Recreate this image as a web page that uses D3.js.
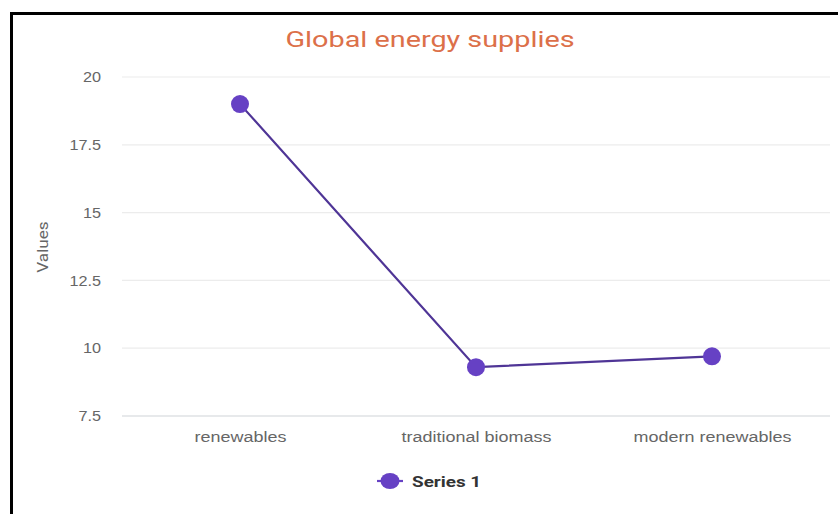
<!DOCTYPE html>
<html>
<head>
<meta charset="utf-8">
<script src="https://cdn.jsdelivr.net/npm/d3@7"></script>
<style>
  body { margin: 0; background: #fff; }
  svg { display: block; font-family: Roboto, "Noto Sans", sans-serif; }
</style>
</head>
<body>
<svg id="chart" width="838" height="514"></svg>
<script>
// chart data
var categories = ["renewables", "traditional biomass", "modern renewables"]
var seriesValues = [19, 9.3, 9.7]
var yTicks = [7.5, 10, 12.5, 15, 17.5, 20]
var seriesName = "Series 1"

var svg = d3.select("#chart")

// frame line at top and left
svg.append("rect")
  .attr("x", 11.5).attr("y", 13.5)
  .attr("width", 900).attr("height", 600)
  .attr("fill", "none")
  .attr("stroke", "#000")
  .attr("stroke-width", 3)

var margin = { left: 122, right: 8, top: 77, bottom: 98 }
var width = 838 - margin.left - margin.right,
    height = 514 - margin.top - margin.bottom

var xScale = d3.scalePoint().domain(categories).range([0, width]).padding(0.5)
var yScale = d3.scaleLinear().domain([7.5, 20]).range([height, 0])

var g = svg.append("g")
  .attr("transform", "translate(" + margin.left + "," + margin.top + ")")

// gridlines
g.append("g")
  .selectAll("line")
  .data(yTicks)
  .enter()
  .append("line")
  .attr("x1", 0).attr("x2", width)
  .attr("y1", function (d) { return yScale(d) })
  .attr("y2", function (d) { return yScale(d) })
  .attr("stroke", function (d) { return d === 7.5 ? "#cfd4d8" : "#ececec" })
  .attr("stroke-width", 1.2)

// y axis
var yAxis = g.append("g")
  .attr("transform", "translate(-21,0)")
  .call(d3.axisLeft(yScale).tickValues(yTicks).tickSize(0).tickPadding(0).tickFormat(d3.format("")))
yAxis.select(".domain").remove()
yAxis.selectAll("text")
  .style("font-size", "14.5px")
  .attr("fill", "#666")
  .attr("dy", "0.32em")
  .attr("transform", "scale(1.12,1)")

// x axis
var xAxis = g.append("g")
  .attr("transform", "translate(0," + height + ")")
  .call(d3.axisBottom(xScale).tickSize(0).tickPadding(0))
xAxis.select(".domain").remove()
xAxis.selectAll("text")
  .style("font-size", "14.5px")
  .attr("fill", "#666")
  .attr("y", 26)
  .attr("dy", 0)
  .attr("transform", "scale(1.24,1)")

// title
svg.append("text")
  .attr("text-anchor", "middle")
  .attr("transform", "translate(430,47)scale(1.31,1)")
  .style("font-size", "22px")
  .attr("fill", "#dc7049")
  .text("Global energy supplies")

// y label
svg.append("text")
  .attr("text-anchor", "middle")
  .attr("transform", "translate(48,247)rotate(-90)scale(1.18,1)")
  .style("font-size", "14.5px")
  .attr("fill", "#666")
  .text("Values")

// line
var line = d3.line()
  .x(function (d, i) { return xScale(categories[i]) })
  .y(function (d) { return yScale(d) })

g.append("path")
  .datum(seriesValues)
  .attr("d", line)
  .attr("fill", "none")
  .attr("stroke", "#4f3596")
  .attr("stroke-width", 2.2)

g.append("g")
  .selectAll("circle")
  .data(seriesValues)
  .enter()
  .append("circle")
  .attr("cx", function (d, i) { return xScale(categories[i]) })
  .attr("cy", function (d) { return yScale(d) })
  .attr("r", 9)
  .attr("fill", "#6641c4")

// legend
var legend = svg.append("g").attr("transform", "translate(390,481)")
legend.append("line")
  .attr("x1", -13).attr("x2", 13)
  .attr("stroke", "#6641c4").attr("stroke-width", 2.2)
legend.append("ellipse").attr("rx", 9.5).attr("ry", 8).attr("fill", "#6641c4")
legend.append("text")
  .attr("transform", "translate(22,0)scale(1.22,1)")
  .attr("dy", "0.36em")
  .style("font-size", "15.5px")
  .style("font-weight", "bold")
  .attr("fill", "#333")
  .text(seriesName)
</script>
</body>
</html>
